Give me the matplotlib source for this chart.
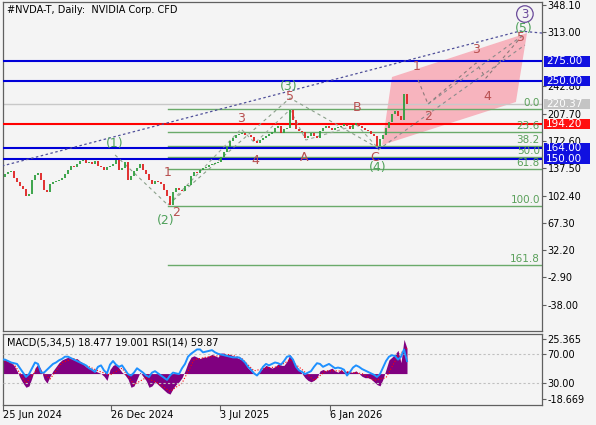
import numpy as np
import matplotlib
matplotlib.use("Agg")
import matplotlib.pyplot as plt
from matplotlib.patches import Polygon, Rectangle

title = "#NVDA-T, Daily:  NVIDIA Corp. CFD"
ind_text = "MACD(5,34,5) 18.477 19.001 RSI(14) 59.87"

# closes, one sample every ~3.5 trading days
first_open = 124.0
closes = [126.2, 130.1, 132.7, 133.9, 124.9, 119.8, 114.6, 110.8, 101.8, 104.3,
          122.4, 128.8, 131.4, 122.4, 109.5, 106.9, 117.2, 119.8, 120.5, 122.4,
          124.9, 130.1, 135.2, 140.4, 139.1, 143.0, 146.8, 148.1, 144.2, 145.5,
          143.0, 146.8, 140.4, 139.1, 135.2, 139.1, 140.4, 143.0, 148.1, 135.2,
          137.8, 145.5, 122.4, 127.5, 133.9, 137.8, 143.0, 135.2, 130.1, 122.4,
          117.2, 121.1, 119.8, 117.2, 109.5, 101.8, 90.0, 106.9, 112.1, 109.5,
          108.2, 114.6, 115.9, 127.5, 132.7, 131.5, 135.2, 137.8, 139.1, 141.7,
          143.0, 144.2, 145.5, 152.0, 158.4, 164.9, 172.6, 176.4, 180.3, 181.6,
          182.9, 180.5, 180.3, 177.7, 172.6, 170.0, 173.9, 176.4, 179.0, 181.6,
          184.2, 189.3, 191.9, 182.9, 188.0, 189.3, 213.0, 199.6, 188.0, 185.5,
          184.2, 176.4, 179.0, 182.9, 179.0, 176.4, 185.5, 189.3, 191.9, 189.3,
          186.8, 189.3, 190.6, 191.9, 194.5, 191.9, 188.0, 193.2, 195.8, 191.9,
          189.3, 186.8, 185.5, 181.6, 179.0, 166.0, 175.2, 180.3, 189.3, 197.0,
          207.4, 211.2, 204.8, 199.6, 233.0, 220.37]

macd = [10, 10, 9, 8, 6, 2, -3, -7, -10, -9,
        -3, 4, 7, 3, -4, -7, -2, 2, 5, 8,
        10, 11, 12, 11, 10, 11, 9, 7, 5, 4,
        3, 2, 1, 0, -2, -5, 3, 6, 7, 4,
        1, -1, -4, -10, -9, -4, 1, -2, -5, -10,
        -9, -6, -8, -10, -12, -14, -15, -11, -8, -6,
        -3, 2, 8, 12, 13, 12, 11, 12, 12, 13,
        14, 13, 12, 15, 15, 14, 14, 13, 12, 11,
        10, 8, 4, 2, 0, 0, 2, 4, 6, 5,
        4, 5, 7, 6, 6, 9, 14, 10, 6, 3,
        0, -3, -5, -6, -5, -3, 2, 3, 2, 3,
        4, 2, 1, 3, 1, 2, 1, 1, 2, 0,
        -2, -3, -3, -4, -6, -8, -9, -4, 3, 10,
        12, 14, 17, 8, 25.0, 18.477]

signal = [10, 7, -7, 4, -4, 8, 11, 6, 2, -1, 4, -8, -3, -7, -13, -7, 10, 12,
          13, 14, 11, 2, 4, 5, 10, 3, -5, 2, 2, 1, 0, -5, -3, 13, 19.001]
signal_idx = list(range(0, 136, 4)) + [135]

rsi = [62, 62, 60, 58, 57, 56, 50, 44, 38, 42,
       50, 58, 56, 44, 44, 48, 52, 56, 58, 61,
       63, 66, 66, 64, 62, 60, 58, 56, 54, 50,
       48, 45, 52, 54, 47, 43, 55, 60, 55, 52,
       54, 48, 42, 40, 44, 50, 47, 44, 40, 38,
       44, 46, 43, 40, 37, 34, 40, 44, 43, 42,
       50, 56, 66, 70, 73, 76, 76, 72, 73, 74,
       75, 72, 70, 69, 68, 67, 66, 65, 65, 65,
       62, 58, 52, 48, 43, 40, 45, 52, 56, 54,
       56, 58, 57, 55, 60, 66, 67, 62, 52, 47,
       45, 42, 44, 46, 52, 57, 56, 52, 54, 56,
       53, 50, 51, 50, 48, 40, 45, 51, 54, 52,
       49, 47, 45, 43, 41, 38, 42, 51, 60, 66,
       68, 67, 62, 66, 76, 59.87]

date_labels = ["25 Jun 2024", "26 Dec 2024", "3 Jul 2025", "6 Jan 2026"]
date_pos = [0.4, 36.3, 72.7, 109.3]

# 277.90 sits under the 275.00 tag and is not shown
price_ticks = [348.10, 313.00, 242.80, 207.70, 172.60, 137.50,
               102.40, 67.30, 32.20, -2.90, -38.00]
blue_levels = [275.0, 250.0, 164.0, 150.0]
red_level = 194.20
last_price = 220.37

fib_start = 55.3
fib_high, fib_low = 213.8, 89.3
fib_levels = [0.0, 23.6, 38.2, 50.0, 61.8, 100.0, 161.8]

# elliott wave points (bar index, price)
major_x = [37.7, 55.3, 96.0, 125.3]
major_y = [154.6, 90.2, 227.9, 163.6]
minor_x = [55.3, 79.7, 84.3, 96.0, 101.3, 118.3, 125.3]
minor_y = [90.2, 188.0, 170.0, 213.0, 173.9, 193.2, 163.6]
proj_x = [138.7, 142.0, 158.0, 161.3, 173.3]
proj_y = [251.1, 220.2, 273.0, 253.7, 307.8]
chan_x = [125.3, 174.3]
chan_y = [161.0, 296.2]
trend_x = [0.0, 172.7, 180.0]
trend_y = [140.4, 314.2, 311.6]
zone_x = [126.7, 130.0, 175.0, 171.3]
zone_y = [167.4, 255.0, 311.6, 222.8]

green_waves = [("(1)", 37.7, 170.0), ("(2)", 54.7, 69.6), ("(3)", 95.7, 243.4),
               ("(4)", 125.3, 139.1), ("(5)", 174.0, 318.0)]
red_waves = [("1", 55.3, 131.4), ("2", 58.0, 81.1), ("3", 79.7, 202.2),
             ("4", 84.3, 148.1), ("5", 96.0, 230.5), ("A", 100.7, 150.7),
             ("B", 118.3, 215.1), ("C", 124.3, 150.7), ("1", 138.3, 267.9),
             ("2", 142.0, 203.5), ("3", 158.0, 289.8), ("4", 161.7, 230.5),
             ("5", 173.0, 306.5)]
circle_wave = ("3", 174.3, 336.1)

bg = "#f4f4f4"
W, H = 596, 425
fig = plt.figure(figsize=(W / 100, H / 100), dpi=100, facecolor=bg)
ax = fig.add_axes([3 / W, 1 - 331 / H, 539 / W, 329 / H], facecolor=bg)
axs = fig.add_axes([3 / W, 1 - 404.5 / H, 539 / W, 71 / H], facecolor=bg)
axr = axs.twinx()

for a in (ax, axs):
    for s in a.spines.values():
        s.set_color("#606060")
        s.set_linewidth(0.9)
    a.set_xlim(0.33, 180)

# ---- main chart ----
ax.set_ylim(-72.1, 351.6)
ax.yaxis.tick_right()
ax.set_yticks(price_ticks)
ax.set_yticklabels(["%.2f" % v for v in price_ticks])
ax.tick_params(axis="y", length=3, width=0.8, color="#606060", pad=1, labelsize=7)
ax.set_xticks([])

ax.add_patch(Polygon(list(zip(zone_x, zone_y)), closed=True, fc="#f7b4be",
                     ec="none", zorder=1))

ax.axhline(last_price, color="#c8c8c8", lw=1.0, zorder=2)
for lv in fib_levels:
    p = fib_high - lv / 100 * (fib_high - fib_low)
    ax.plot([fib_start, 180], [p, p], color="#6aaa6a", lw=1.0, zorder=2)
    ax.text(179.3, p + 1.5, "%.1f" % lv, color="#5aa05a", fontsize=7.5,
            ha="right", va="bottom", zorder=6)
for lv in blue_levels:
    ax.axhline(lv, color="#0000d8", lw=1.5, zorder=3)
ax.axhline(red_level, color="#ff0000", lw=1.5, zorder=3)

ax.plot(trend_x, trend_y, color="#50509a", lw=0.9, ls=(0, (2, 2)), zorder=4)
ax.plot(major_x, major_y, color="#8aa08a", lw=0.8, ls=(0, (3, 3)), zorder=4)
ax.plot(minor_x, minor_y, color="#9aaa9a", lw=0.8, ls=(0, (3, 3)), zorder=4)
ax.plot(proj_x, proj_y, color="#8c7a7a", lw=0.8, ls=(0, (3, 3)), zorder=4)
ax.plot(chan_x, chan_y, color="#8c8c8c", lw=0.8, ls=(0, (3, 3)), zorder=4)
ax.plot([proj_x[1], proj_x[4]], [proj_y[1], proj_y[4]], color="#8c8c8c",
        lw=0.8, ls=(0, (3, 3)), zorder=4)

x = np.arange(len(closes))
opens = [first_open] + closes[:-1]
cols = ["#2e9e3e" if c >= o else "#e02020" for o, c in zip(opens, closes)]
ax.vlines(x, opens, closes, colors=cols, lw=1.3, zorder=5)

for t, xi, yi in green_waves:
    ax.text(xi, yi, t, color="#4ea05a", fontsize=9, ha="center", va="center", zorder=7)
for t, xi, yi in red_waves:
    ax.text(xi, yi, t, color="#b85050", fontsize=9, ha="center", va="center", zorder=7)
ax.text(circle_wave[1], circle_wave[2], circle_wave[0], color="#6a4a9a", fontsize=8.5,
        ha="center", va="center", zorder=7,
        bbox=dict(boxstyle="circle,pad=0.15", fc="none", ec="#6a4a9a", lw=0.9))

# right side price tags
ytr = ax.get_yaxis_transform()
tags = [(v, "#1010e0") for v in blue_levels] + [(red_level, "#ff1010"), (last_price, "#c4c4c4")]
for v, c in tags:
    ax.add_patch(Rectangle((1 + 2 / 539, v - 6.6), 46 / 539, 13.2, transform=ytr,
                           fc=c, ec="none", clip_on=False, zorder=10))
    ax.text(1 + 4 / 539, v, "%.2f" % v, transform=ytr, color="white", fontsize=7.5,
            ha="left", va="center", clip_on=False, zorder=11)

fig.text(7 / W, 1 - 10 / H, title, fontsize=7, va="center", ha="left")

# ---- indicator panel ----
axs.set_ylim(-22.59, 29.29)
axs.fill_between(x, 0, macd, color="#800080", lw=0, zorder=2)
axs.plot(signal_idx, signal, color="#ff0000", lw=0.8, ls=":", zorder=3)
axs.yaxis.tick_right()
axs.set_yticks([25.365, -18.669])
axs.set_yticklabels(["25.365", "-18.669"])
axs.tick_params(axis="y", length=3, width=0.8, color="#606060", pad=1, labelsize=7)

axr.set_ylim(0, 98)
axr.axhline(70, color="#c0c0c0", lw=0.8, ls=(0, (2, 2)))
axr.axhline(30, color="#c0c0c0", lw=0.8, ls=(0, (2, 2)))
axr.plot(x, rsi, color="#1e90ff", lw=1.4)
axr.set_yticks([70, 30])
axr.set_yticklabels(["70.00", "30.00"])
axr.tick_params(axis="y", length=3, width=0.8, color="#606060", pad=1, labelsize=7)
for s in axr.spines.values():
    s.set_visible(False)

axs.set_xticks(date_pos)
axs.set_xticklabels(date_labels, ha="left")
axs.tick_params(axis="x", length=4, width=0.8, color="#606060", pad=0, labelsize=7)
axs.text(4 / 539, 0.88, ind_text, transform=axs.transAxes, fontsize=7,
         ha="left", va="center", zorder=5)

fig.savefig("out.png", dpi=100, facecolor=bg)
